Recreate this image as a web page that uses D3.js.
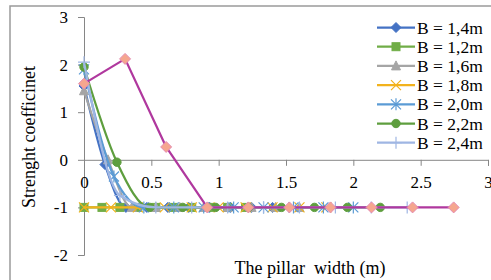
<!DOCTYPE html>
<html>
<head>
<meta charset="utf-8">
<script src="https://cdn.jsdelivr.net/npm/d3@7"></script>
<style>
  body { margin: 0; background: #fff; }
  svg { display: block; font-family: "Liberation Serif", "Times New Roman", serif; }
</style>
</head>
<body>
<svg id="chart" width="491" height="280"></svg>
<script>
// series names (legend) and their widths B
const seriesNames = ["B = 1,4m", "B = 1,2m", "B = 1,6m", "B = 1,8m", "B = 2,0m", "B = 2,2m", "B = 2,4m", "B = 2,75m"];
const seriesB = [1.4, 1.2, 1.6, 1.8, 2.0, 2.2, 2.4, 2.745];
// strength coefficient values, 10 points per series (x from 0 to B)
const valsB14 = [1.55, -0.1, -1, -1, -1, -1, -1, -1, -1, -1];
const valsB12 = [-1, -1, -1, -1, -1, -1, -1, -1, -1, -1];
const valsB16 = [1.45, 0, -1, -1, -1, -1, -1, -1, -1, -1];
const valsB18 = [-1, -1, -1, -1, -1, -1, -1, -1, -1, -1];
const valsB20 = [1.9, -0.35, -1, -1, -1, -1, -1, -1, -1, -1];
const valsB22 = [1.95, -0.05, -1, -1, -1, -1, -1, -1, -1, -1];
const valsB24 = [2.05, -0.75, -1, -1, -1, -1, -1, -1, -1, -1];
const valsB28 = [1.6, 2.12, 0.27, -1, -1, -1, -1, -1, -1, -1];
const xTicks = [0, 0.5, 1, 1.5, 2, 2.5, 3];
const yTicks = [-2, -1, 0, 1, 2, 3];

const allVals = [valsB14, valsB12, valsB16, valsB18, valsB20, valsB22, valsB24, valsB28];
const colors = ["#4472c4", "#70ad47", "#a5a5a5", "#f2b21c", "#5b9bd5", "#5e9e3e", "#9fb6e3", "#b0389e"];
const markers = ["diamond", "square", "triangle", "x", "star", "circle", "plus", "pdiamond"];
const inLegend = 7;

const svg = d3.select("#chart");

// outer frame (cropped on right and bottom)
svg.append("rect")
  .attr("x", 10).attr("y", 6)
  .attr("width", 500).attr("height", 300)
  .attr("fill", "none").attr("stroke", "#9a9a9a").attr("stroke-width", 1.5);

const x = d3.scaleLinear().domain([0, 3]).range([84, 488]);
const y = d3.scaleLinear().domain([-2, 3]).range([255, 17]);

// y axis
const yAxis = svg.append("g")
  .attr("transform", `translate(${x(0)},0)`)
  .call(d3.axisLeft(y).tickValues(yTicks).tickSize(6).tickFormat(d => String(d)));
yAxis.select(".domain").attr("stroke", "#868686");
yAxis.selectAll(".tick line").attr("stroke", "#868686");
yAxis.selectAll(".tick text")
  .attr("x", -16)
  .attr("font-size", "17px")
  .attr("font-family", "Liberation Serif")
  .attr("fill", "#000");

// x axis at y = 0
const xAxis = svg.append("g")
  .attr("transform", `translate(0,${y(0)})`)
  .call(d3.axisBottom(x).tickValues(xTicks).tickSize(6).tickFormat(d => String(d)));
xAxis.select(".domain").attr("stroke", "#868686");
xAxis.selectAll(".tick line").attr("stroke", "#868686");
xAxis.selectAll(".tick text")
  .attr("y", 16)
  .attr("font-size", "17px")
  .attr("font-family", "Liberation Serif")
  .attr("fill", "#000");

// titles
svg.append("text")
  .attr("transform", "translate(29,137) rotate(-90)")
  .attr("text-anchor", "middle")
  .attr("dominant-baseline", "central")
  .attr("font-size", "18px")
  .text("Strenght coefficinet");

svg.append("text")
  .attr("x", 310).attr("y", 274)
  .attr("text-anchor", "middle")
  .attr("font-size", "18px")
  .style("white-space", "pre")
  .text("The pillar  width (m)");

function drawMarker(g, type, cx, cy, color) {
  const s = 4;
  if (type === "diamond") {
    g.append("path").attr("d", `M${cx},${cy - 5}L${cx + 5},${cy}L${cx},${cy + 5}L${cx - 5},${cy}Z`)
      .attr("fill", color).attr("stroke", color);
  } else if (type === "pdiamond") {
    g.append("path").attr("d", `M${cx},${cy - 5.5}L${cx + 5.5},${cy}L${cx},${cy + 5.5}L${cx - 5.5},${cy}Z`)
      .attr("fill", "#f5a68e").attr("stroke", "#e58cb4").attr("stroke-width", 1);
  } else if (type === "square") {
    g.append("rect").attr("x", cx - s).attr("y", cy - s).attr("width", 2 * s).attr("height", 2 * s)
      .attr("fill", color).attr("stroke", color);
  } else if (type === "triangle") {
    g.append("path").attr("d", `M${cx},${cy - 5}L${cx + 4.5},${cy + 4}L${cx - 4.5},${cy + 4}Z`)
      .attr("fill", color).attr("stroke", color);
  } else if (type === "circle") {
    g.append("circle").attr("cx", cx).attr("cy", cy).attr("r", 4.2)
      .attr("fill", color).attr("stroke", color);
  } else if (type === "x") {
    g.append("path").attr("d", `M${cx - 5},${cy - 5}L${cx + 5},${cy + 5}M${cx - 5},${cy + 5}L${cx + 5},${cy - 5}`)
      .attr("stroke", color).attr("stroke-width", 1.2);
  } else if (type === "star") {
    g.append("path").attr("d", `M${cx - 5},${cy - 5}L${cx + 5},${cy + 5}M${cx - 5},${cy + 5}L${cx + 5},${cy - 5}M${cx},${cy - 6}L${cx},${cy + 6}`)
      .attr("stroke", color).attr("stroke-width", 1.2);
  } else if (type === "plus") {
    g.append("path").attr("d", `M${cx - 6},${cy}L${cx + 6},${cy}M${cx},${cy - 6}L${cx},${cy + 6}`)
      .attr("stroke", color).attr("stroke-width", 1.2);
  }
}

const smooth = d3.line().x(d => x(d[0])).y(d => y(d[1])).curve(d3.curveMonotoneX);
const straight = d3.line().x(d => x(d[0])).y(d => y(d[1]));

allVals.forEach((vals, i) => {
  const pts = vals.map((v, j) => [seriesB[i] * j / 9, v]);
  const g = svg.append("g");
  g.append("path")
    .attr("d", i === 7 ? straight(pts) : smooth(pts))
    .attr("fill", "none")
    .attr("stroke", colors[i])
    .attr("stroke-width", 2.25)
    .attr("stroke-linejoin", "round");
  pts.forEach(p => drawMarker(g, markers[i], x(p[0]), y(p[1]), colors[i]));
});

// legend
const legend = svg.append("g");
seriesNames.slice(0, inLegend).forEach((name, i) => {
  const ly = 27.5 + i * 19.2;
  legend.append("line")
    .attr("x1", 377).attr("x2", 415).attr("y1", ly).attr("y2", ly)
    .attr("stroke", colors[i]).attr("stroke-width", 2.25);
  drawMarker(legend, markers[i], 396, ly, colors[i]);
  legend.append("text")
    .attr("x", 417).attr("y", ly)
    .attr("dominant-baseline", "central")
    .attr("font-size", "17.5px")
    .text(name);
});
</script>
</body>
</html>
